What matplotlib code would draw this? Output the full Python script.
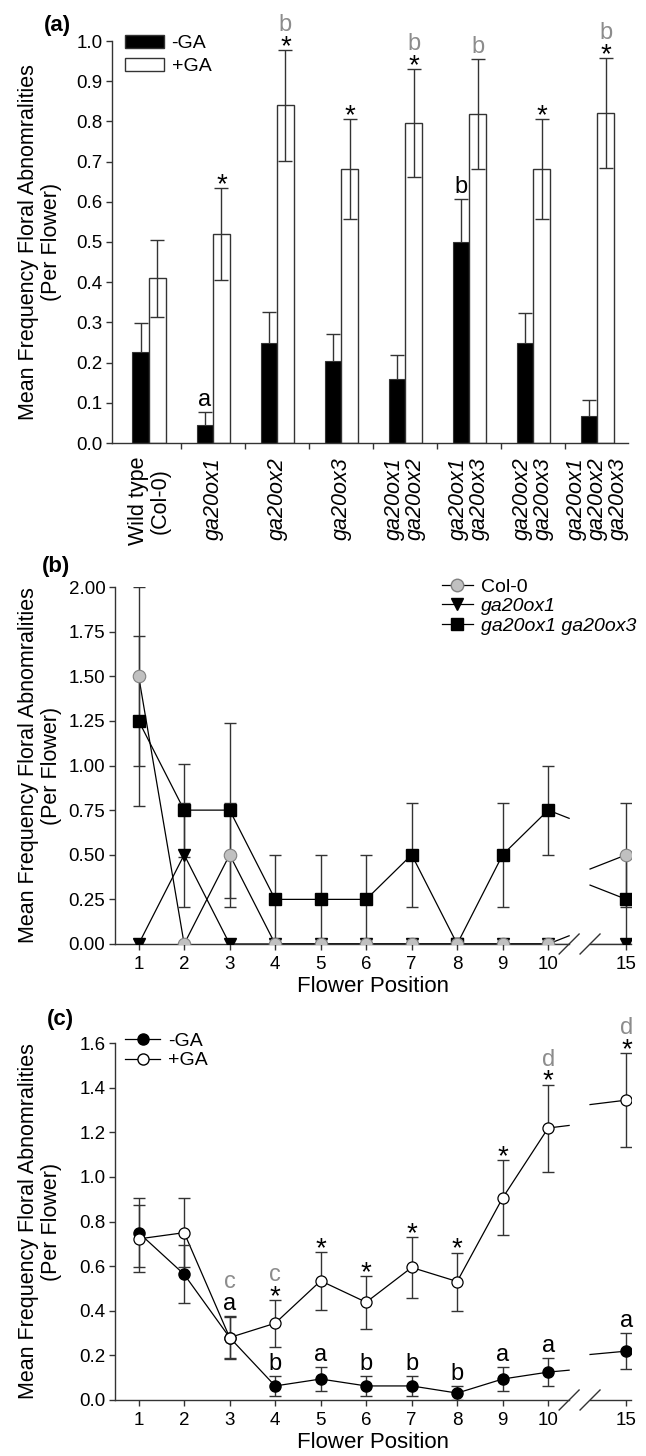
import numpy as np
import matplotlib
matplotlib.use("Agg")
import matplotlib.pyplot as plt
from matplotlib.lines import Line2D
from matplotlib.patches import Patch

plt.rcParams['font.family'] = ['Liberation Sans', 'DejaVu Sans']
plt.rcParams['font.size'] = 13
plt.rcParams['axes.edgecolor'] = '#333333'
plt.rcParams['xtick.color'] = '#333333'
plt.rcParams['ytick.color'] = '#333333'
plt.rcParams['xtick.labelcolor'] = 'black'
plt.rcParams['ytick.labelcolor'] = 'black'

# ---------------- data: panel (a) ----------------
genotypes_a = ["Wild type\n(Col-0)", "ga20ox1", "ga20ox2", "ga20ox3",
               "ga20ox1\nga20ox2", "ga20ox1\nga20ox3", "ga20ox2\nga20ox3",
               "ga20ox1\nga20ox2\nga20ox3"]
minus_ga_a = [0.227, 0.046, 0.25, 0.204, 0.16, 0.50, 0.25, 0.068]
minus_ga_a_err = [0.071, 0.032, 0.075, 0.068, 0.06, 0.107, 0.074, 0.039]
plus_ga_a = [0.41, 0.52, 0.84, 0.681, 0.796, 0.818, 0.681, 0.82]
plus_ga_a_err = [0.096, 0.115, 0.138, 0.124, 0.134, 0.137, 0.124, 0.137]
minus_ga_a_marks = ["", "a", "", "", "", "b", "", ""]
plus_ga_a_star = [False, True, True, True, True, False, True, True]
plus_ga_a_grey = ["", "", "b", "", "b", "b", "", "b"]

# ---------------- data: panel (b) ----------------
flower_pos = [1, 2, 3, 4, 5, 6, 7, 8, 9, 10, 15]
col0_b = [1.5, 0, 0.5, 0, 0, 0, 0, 0, 0, 0, 0.5]
col0_b_err = [0.5, 0, 0.29, 0, 0, 0, 0, 0, 0, 0, 0.29]
ox1_b = [0, 0.5, 0, 0, 0, 0, 0, 0, 0, 0, 0]
ox1_b_err = [0, 0.29, 0, 0, 0, 0, 0, 0, 0, 0, 0]
ox1ox3_b = [1.25, 0.75, 0.75, 0.25, 0.25, 0.25, 0.5, 0, 0.5, 0.75, 0.25]
ox1ox3_b_err = [0.475, 0.26, 0.49, 0.25, 0.25, 0.25, 0.29, 0, 0.29, 0.25, 0.25]

# ---------------- data: panel (c) ----------------
minus_ga_c = [0.75, 0.563, 0.28, 0.063, 0.094, 0.063, 0.063, 0.031, 0.094, 0.125, 0.219]
minus_ga_c_err = [0.155, 0.13, 0.09, 0.044, 0.053, 0.044, 0.044, 0.031, 0.053, 0.062, 0.082]
plus_ga_c = [0.722, 0.75, 0.28, 0.344, 0.534, 0.438, 0.594, 0.531, 0.906, 1.219, 1.344]
plus_ga_c_err = [0.15, 0.155, 0.095, 0.105, 0.13, 0.118, 0.137, 0.13, 0.168, 0.195, 0.21]
# stacked marks above the error bar (bottom to top), k = black, g = grey
plus_ga_c_marks = [[], [], [("a", "k"), ("c", "g")], [("*", "k"), ("c", "g")],
                   [("*", "k")], [("*", "k")], [("*", "k")], [("*", "k")],
                   [("*", "k")], [("*", "k"), ("d", "g")], [("*", "k"), ("d", "g")]]
minus_ga_c_marks = ["", "", "", "b", "a", "b", "b", "b", "a", "a", "a"]

# ---------------- styling ----------------
W, H = 646, 1456
GREY_TXT = '#8c8c8c'
EC = '#333333'
LETTER_FS = 17
STAR_FS = 20
TICK_FS = 13.5
BREAK_AT = 1.72        # plotted distance between 10 and 15
brk_lo, brk_hi = 10.46, 10.92
plot_x = np.array([p if p <= 10 else 10 + BREAK_AT for p in flower_pos], dtype=float)


def px2pt(px):
    return px * 72.0 / 100.0


def stack_marks(ax, x, top, marks):
    # marks: list of (text, color) from bottom to top
    off = None
    prev = None
    for txt, col in marks:
        if off is None:
            off = -4 if txt == "*" else 6
        else:
            off += 23 if prev == "*" else 22
        ax.annotate(txt, xy=(x, top), xytext=(0, px2pt(off)), textcoords='offset points',
                    ha='center', va='baseline', color=GREY_TXT if col == "g" else 'black',
                    fontsize=STAR_FS if txt == "*" else LETTER_FS, annotation_clip=False)
        prev = txt


def style_axes(ax):
    ax.spines['top'].set_visible(False)
    ax.spines['right'].set_visible(False)
    ax.spines['left'].set_linewidth(1.0)
    ax.spines['bottom'].set_linewidth(1.0)
    ax.tick_params(direction='out', length=4.5, width=1.0, pad=2.5, labelsize=TICK_FS)
    ax.tick_params(axis='x', pad=4)


def broken_line(ax, ys, **kw):
    ys = np.asarray(ys, dtype=float)
    ax.plot(plot_x[:10], ys[:10], **kw)
    slope = (ys[10] - ys[9]) / (flower_pos[10] - flower_pos[9])
    ax.plot([plot_x[9], brk_lo], [ys[9], ys[9] + slope * (brk_lo - plot_x[9])], **kw)
    ax.plot([brk_hi, plot_x[10]], [ys[10] - slope * (plot_x[10] - brk_hi), ys[10]], **kw)


def errbars(ax, ys, err, **kw):
    ys = np.asarray(ys, dtype=float)
    err = np.asarray(err, dtype=float)
    m = err > 0
    ax.errorbar(plot_x[m], ys[m], yerr=err[m], fmt='none', ecolor=EC, elinewidth=1.0,
                capsize=4.5, capthick=1.0, **kw)


def break_axis(ax):
    ax.spines['bottom'].set_visible(False)
    tr = ax.get_xaxis_transform()
    x0, x1 = ax.get_xlim()
    ax.plot([x0, brk_lo], [0, 0], color=EC, lw=1.0, transform=tr, clip_on=False, zorder=1)
    ax.plot([brk_hi, x1], [0, 0], color=EC, lw=1.0, transform=tr, clip_on=False, zorder=1)
    h_px = ax.get_position().height * H
    dx = 10 / 45.6
    dy = 10 / h_px
    for b in (brk_lo, brk_hi):
        ax.plot([b - dx, b + dx], [-dy, dy], color=EC, lw=1.0, transform=tr, clip_on=False)


def y_label(ax, left_px):
    ax.set_ylabel("Mean Frequency Floral Abnomralities\n(Per Flower)", fontsize=15.5,
                  va='center', linespacing=1.1)
    ax.yaxis.set_label_coords((40 - left_px) / 516, 0.5)


fig = plt.figure(figsize=(W / 100, H / 100), dpi=100)

# ================= panel (a) =================
ax = fig.add_axes([112 / W, 1 - 443 / H, (628 - 112) / W, (443 - 41) / H])
x = np.arange(len(genotypes_a))
bw = 0.26
ax.bar(x - bw / 2, minus_ga_a, bw, color='black', edgecolor=EC, linewidth=0.8, zorder=2)
ax.bar(x + bw / 2, plus_ga_a, bw, color='white', edgecolor=EC, linewidth=1.0, zorder=2)
# -GA error bars sit behind the black bars, so only the upper half shows
ax.errorbar(x - bw / 2, minus_ga_a, yerr=minus_ga_a_err, fmt='none', ecolor=EC,
            elinewidth=1.0, capsize=4.7, capthick=1.0, zorder=1.5)
ax.errorbar(x + bw / 2, plus_ga_a, yerr=plus_ga_a_err, fmt='none', ecolor=EC,
            elinewidth=1.0, capsize=4.7, capthick=1.0, zorder=3)
for i in range(len(x)):
    top_p = plus_ga_a[i] + plus_ga_a_err[i]
    marks = []
    if plus_ga_a_star[i]:
        marks.append(("*", "k"))
    if plus_ga_a_grey[i]:
        marks.append((plus_ga_a_grey[i], "g"))
    stack_marks(ax, x[i] + bw / 2, top_p, marks)
    if minus_ga_a_marks[i]:
        stack_marks(ax, x[i] - bw / 2, minus_ga_a[i] + minus_ga_a_err[i],
                    [(minus_ga_a_marks[i], "k")])

ax.set_xlim(-0.58, 7.48)
ax.set_ylim(0, 1.0)
ax.set_yticks(np.arange(0, 1.01, 0.1))
ax.set_yticklabels([f"{v:.1f}" for v in np.arange(0, 1.01, 0.1)])
style_axes(ax)
ax.set_xticks(x)
ax.set_xticklabels(genotypes_a, rotation=90, ha='center', va='top',
                   multialignment='center', linespacing=1.0, fontsize=15.5)
for i, lab in enumerate(ax.get_xticklabels()):
    if i > 0:
        lab.set_fontstyle('italic')
ax.tick_params(axis='x', which='major', length=0, pad=10)
ax.set_xticks(x[:-1] + 0.5, minor=True)
ax.tick_params(axis='x', which='minor', direction='out', length=4.5, width=1.0)
y_label(ax, 112)
ax.legend(handles=[Patch(facecolor='black', edgecolor=EC, label='-GA'),
                   Patch(facecolor='white', edgecolor=EC, label='+GA')],
          loc='upper left', bbox_to_anchor=(0.025, 1.015), frameon=False,
          fontsize=14, handlelength=2.0, handleheight=0.65, handletextpad=0.4,
          labelspacing=0.3, borderpad=0, borderaxespad=0)
fig.text(57 / W, 1 - 25 / H, "(a)", fontsize=16, fontweight='bold', ha='center', va='center')

# ================= panel (b) =================
ax = fig.add_axes([115 / W, 1 - 944 / H, (631 - 115) / W, (944 - 587) / H])
ax.set_xlim(0.48, 11.82)
ax.set_ylim(0, 2.0)
line_kw = dict(color='black', lw=0.9, zorder=2)
broken_line(ax, ox1ox3_b, **line_kw)
broken_line(ax, ox1_b, **line_kw)
broken_line(ax, col0_b, **line_kw)
errbars(ax, ox1ox3_b, ox1ox3_b_err, zorder=3)
errbars(ax, ox1_b, ox1_b_err, zorder=3)
errbars(ax, col0_b, col0_b_err, zorder=3)
ax.plot(plot_x, ox1ox3_b, 's', ms=8.5, mfc='black', mec='black', zorder=5)
ax.plot(plot_x, ox1_b, 'v', ms=9, mfc='black', mec='black', zorder=5)
ax.plot(plot_x, col0_b, 'o', ms=9, mfc='#c0c0c0', mec='#808080', mew=0.8, zorder=6)
ax.set_yticks(np.arange(0, 2.01, 0.25))
ax.set_yticklabels([f"{v:.2f}" for v in np.arange(0, 2.01, 0.25)])
ax.set_xticks(plot_x)
ax.set_xticklabels([str(p) for p in flower_pos])
style_axes(ax)
break_axis(ax)
ax.set_xlabel("Flower Position", fontsize=16, labelpad=2)
y_label(ax, 115)
h_b = [Line2D([], [], color='black', lw=0.9, marker='o', ms=9, mfc='#c0c0c0', mec='#808080'),
       Line2D([], [], color='black', lw=0.9, marker='v', ms=9, mfc='black', mec='black'),
       Line2D([], [], color='black', lw=0.9, marker='s', ms=8.5, mfc='black', mec='black')]
leg = ax.legend(h_b, ["Col-0", "ga20ox1", "ga20ox1 ga20ox3"], loc='upper right',
                bbox_to_anchor=(1.01, 1.025), frameon=False, fontsize=14, handlelength=1.6,
                handletextpad=0.4, labelspacing=0.1, borderpad=0, borderaxespad=0)
for t in leg.get_texts()[1:]:
    t.set_fontstyle('italic')
fig.text(56 / W, 1 - 567 / H, "(b)", fontsize=16, fontweight='bold', ha='center', va='center')

# ================= panel (c) =================
ax = fig.add_axes([115 / W, 1 - 1400 / H, (631 - 115) / W, (1400 - 1043) / H])
ax.set_xlim(0.48, 11.82)
ax.set_ylim(0, 1.6)
broken_line(ax, minus_ga_c, **line_kw)
broken_line(ax, plus_ga_c, **line_kw)
errbars(ax, minus_ga_c, minus_ga_c_err, zorder=3)
errbars(ax, plus_ga_c, plus_ga_c_err, zorder=3)
ax.plot(plot_x, minus_ga_c, 'o', ms=8, mfc='black', mec='black', zorder=5)
ax.plot(plot_x, plus_ga_c, 'o', ms=8, mfc='white', mec='black', mew=0.9, zorder=6)
for i in range(len(plot_x)):
    top_p = max(plus_ga_c[i] + plus_ga_c_err[i], minus_ga_c[i] + minus_ga_c_err[i])
    stack_marks(ax, plot_x[i], top_p, plus_ga_c_marks[i])
    if minus_ga_c_marks[i]:
        stack_marks(ax, plot_x[i], minus_ga_c[i] + minus_ga_c_err[i],
                    [(minus_ga_c_marks[i], "k")])
ax.set_yticks(np.arange(0, 1.61, 0.2))
ax.set_yticklabels([f"{v:.1f}" for v in np.arange(0, 1.61, 0.2)])
ax.set_xticks(plot_x)
ax.set_xticklabels([str(p) for p in flower_pos])
style_axes(ax)
break_axis(ax)
ax.set_xlabel("Flower Position", fontsize=16, labelpad=2)
y_label(ax, 115)
h_c = [Line2D([], [], color='black', lw=0.9, marker='o', ms=8, mfc='black', mec='black'),
       Line2D([], [], color='black', lw=0.9, marker='o', ms=8, mfc='white', mec='black')]
ax.legend(h_c, ["-GA", "+GA"], loc='upper left', bbox_to_anchor=(0.02, 1.03), frameon=False,
          fontsize=14, handlelength=1.8, handletextpad=0.4, labelspacing=0.1,
          borderpad=0, borderaxespad=0)
fig.text(60 / W, 1 - 1020 / H, "(c)", fontsize=16, fontweight='bold', ha='center', va='center')

fig.savefig("out.png", dpi=100)
